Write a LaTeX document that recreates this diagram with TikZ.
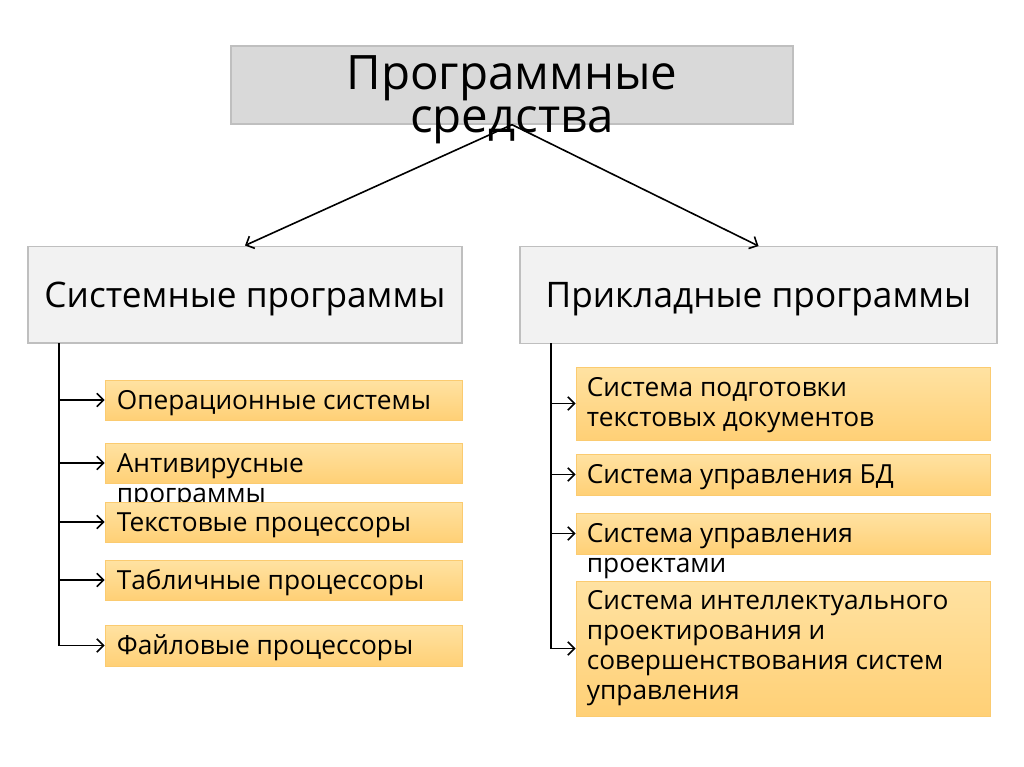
\documentclass[tikz,border=0pt]{standalone}
\usepackage{fontspec}
\setmainfont{Open Sans}
\usetikzlibrary{arrows.meta,calc}
\definecolor{topfill}{HTML}{D9D9D9}
\definecolor{boxline}{HTML}{BFBFBF}
\definecolor{hdrfill}{HTML}{F2F2F2}
\definecolor{orgtop}{HTML}{FFE2A2}
\definecolor{orgbot}{HTML}{FFD076}
\definecolor{orgline}{HTML}{FBCB70}
\newcommand\otx[1]{\parbox[t]{320pt}{\raggedright\fontsize{19.7}{22.5}\selectfont #1}}
\begin{document}
\begin{tikzpicture}[x=0.75pt,y=-0.75pt,
 topbox/.style={draw=boxline, fill=topfill, line width=1pt, inner sep=0, minimum width=421.5pt, minimum height=58.5pt},
 hdr/.style={draw=boxline, fill=hdrfill, line width=1pt, inner sep=0, minimum height=72.5pt, text height=18.9pt, text depth=0pt, font=\fontsize{26.4}{30}\selectfont},
 obox/.style={draw=orgline, top color=orgtop, bottom color=orgbot, line width=0.6pt, inner sep=0},
 lbox/.style={obox, minimum width=267.75pt},
 rbox/.style={obox, minimum width=310.5pt},
 otext/.style={inner sep=0, anchor=base west},
 conn/.style={draw=black, line width=1.2pt},
 arr/.style={conn, -{Straight Barb[length=5pt,width=10pt]}}]

\useasboundingbox (0,0) rectangle (1024,767);
\fill[white] (0,0) rectangle (1024,767);

% top
\node[topbox] (top) at (512,85) {};
\node[inner sep=0, anchor=base] (toptxt) at ($(top.north)+(0,44)$) {\parbox[t]{450pt}{\centering\fontsize{35.6}{32.5}\selectfont Программные\\средства}};

% headers
\node[hdr, minimum width=325.5pt] (L) at (245,294.5) {Системные программы};
\node[hdr, minimum width=357.75pt] (R) at (758.5,295) {Прикладные программы};

% left column
\node[lbox, minimum height=30pt] (l1) at (283.5,400) {};
\node[otext] (tl1) at ($(l1.north west)+(12,30)$) {\otx{Операционные системы}};
\node[lbox, minimum height=30pt] (l2) at (283.5,463) {};
\node[otext] (tl2) at ($(l2.north west)+(12,30)$) {\otx{Антивирусные\\программы}};
\node[lbox, minimum height=30pt] (l3) at (283.5,522) {};
\node[otext] (tl3) at ($(l3.north west)+(12,30)$) {\otx{Текстовые процессоры}};
\node[lbox, minimum height=30pt] (l4) at (283.5,580) {};
\node[otext] (tl4) at ($(l4.north west)+(12,30)$) {\otx{Табличные процессоры}};
\node[lbox, minimum height=30.75pt] (l5) at (283.5,645.5) {};
\node[otext] (tl5) at ($(l5.north west)+(12,30)$) {\otx{Файловые процессоры}};

% right column
\node[rbox, minimum height=54.75pt] (r1) at (783,403.5) {};
\node[otext] (tr1) at ($(r1.north west)+(11,30)$) {\otx{Система подготовки\\текстовых документов}};
\node[rbox, minimum height=30.75pt] (r2) at (783,474.5) {};
\node[otext] (tr2) at ($(r2.north west)+(11,30)$) {\otx{Система управления БД}};
\node[rbox, minimum height=30.75pt] (r3) at (783,533.5) {};
\node[otext] (tr3) at ($(r3.north west)+(11,30)$) {\otx{Система управления\\проектами}};
\node[rbox, minimum height=101.25pt] (r4) at (783,648.5) {};
\node[otext] (tr4) at ($(r4.north west)+(11,29)$) {\otx{Система интеллектуального\\проектирования и\\совершенствования систем\\управления}};

% connectors
\draw[arr] (top.south) -- (L.north);
\draw[arr] (top.south) -- (R.north);

\coordinate (lt) at (59,343);
\draw[conn] (lt) -- (lt |- l5.west);
\foreach \n in {l1,l2,l3,l4,l5} \draw[arr] (lt |- \n.west) -- (\n.west);

\coordinate (rt) at (551,343);
\draw[conn] (rt) -- (rt |- r4.west);
\foreach \n in {r1,r2,r3,r4} \draw[arr] (rt |- \n.west) -- (\n.west);
\end{tikzpicture}
\end{document}
